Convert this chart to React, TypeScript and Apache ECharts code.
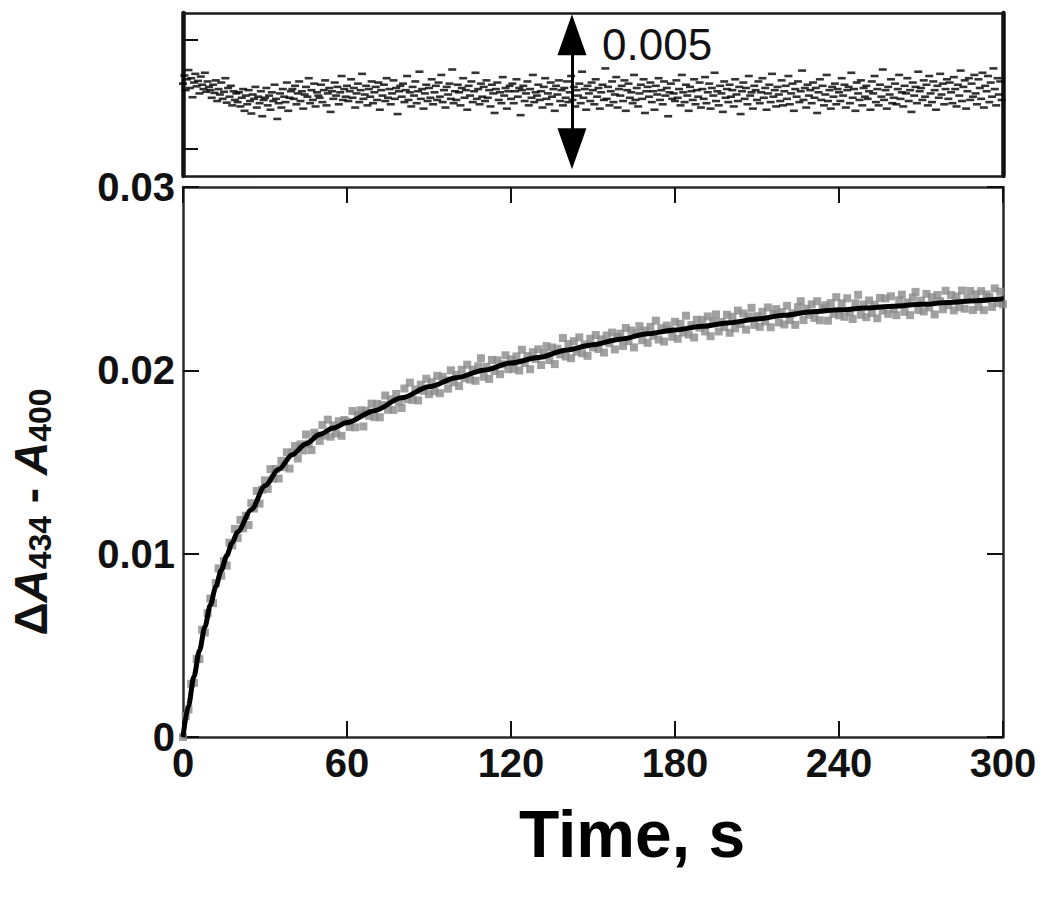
import React, { useEffect, useRef } from "react";
import * as echarts from "echarts";

// Fitted curve (values ×1e-5)
const FIT_T = [0, 2, 4, 6, 8, 10, 12, 14, 16, 18, 20, 25, 30, 35, 40, 45, 50, 55, 60, 70, 80, 90, 100, 110, 120, 130, 140, 150, 160, 170, 180, 190, 200, 210, 220, 230, 240, 250, 260, 270, 280, 290, 300];
const FIT_V = [0, 170, 330, 470, 600, 720, 820, 910, 990, 1060, 1120, 1240, 1370, 1460, 1540, 1600, 1650, 1685, 1715, 1780, 1850, 1910, 1960, 2000, 2040, 2070, 2110, 2140, 2170, 2200, 2220, 2240, 2260, 2280, 2300, 2320, 2330, 2340, 2350, 2360, 2370, 2380, 2390];

// Measured data, one point per second from t = 0 (values ×1e-5)
const DATA_DT = 1;
const DATA_V = [
  0, 115, 150, 290, 295, 425, 425, 585, 570, 675, 755,
  730, 840, 920, 880, 960, 935, 1060, 1045, 1135, 1085,
  1184, 1138, 1207, 1156, 1275, 1246, 1342, 1273, 1349, 1400,
  1353, 1461, 1409, 1462, 1410, 1506, 1472, 1553, 1464, 1550,
  1587, 1519, 1596, 1563, 1650, 1600, 1565, 1660, 1645, 1615,
  1702, 1644, 1731, 1638, 1700, 1656, 1722, 1643, 1729, 1720,
  1691, 1778, 1689, 1756, 1782, 1694, 1780, 1752, 1818, 1745,
  1817, 1744, 1811, 1863, 1785, 1842, 1784, 1871, 1828, 1795,
  1901, 1842, 1933, 1839, 1895, 1836, 1922, 1888, 1954, 1870,
  1935, 1885, 1970, 1875, 1965, 1945, 1900, 2000, 1935, 1975,
  1914, 2003, 1957, 2031, 1950, 2004, 1943, 2022, 2066, 1965,
  2019, 1953, 2057, 1996, 2055, 1979, 2033, 2082, 2006, 2060,
  2008, 2076, 1999, 2112, 2040, 2078, 2006, 2099, 2062, 2115,
  2029, 2093, 2132, 2056, 2125, 2034, 2118, 2087, 2176, 2075,
  2143, 2066, 2159, 2102, 2180, 2093, 2141, 2079, 2172, 2125,
  2193, 2116, 2169, 2097, 2190, 2148, 2206, 2114, 2182, 2200,
  2133, 2231, 2159, 2217, 2125, 2203, 2241, 2164, 2217, 2150,
  2237, 2189, 2271, 2168, 2230, 2157, 2244, 2221, 2183, 2265,
  2172, 2254, 2206, 2298, 2195, 2247, 2179, 2276, 2233, 2275,
  2212, 2294, 2186, 2268, 2305, 2212, 2264, 2236, 2303, 2205,
  2292, 2229, 2326, 2253, 2310, 2222, 2294, 2341, 2248, 2295,
  2237, 2319, 2266, 2343, 2235, 2307, 2334, 2261, 2318, 2250,
  2352, 2274, 2311, 2248, 2345, 2377, 2274, 2336, 2303, 2360,
  2286, 2377, 2273, 2339, 2355, 2271, 2367, 2308, 2399, 2300,
  2366, 2292, 2393, 2319, 2280, 2366, 2412, 2303, 2359, 2290,
  2381, 2312, 2358, 2284, 2395, 2326, 2392, 2308, 2404, 2335,
  2301, 2382, 2413, 2319, 2370, 2301, 2397, 2428, 2329, 2380,
  2321, 2417, 2343, 2399, 2305, 2411, 2377, 2333, 2434, 2355,
  2411, 2327, 2403, 2344, 2435, 2336, 2392, 2433, 2329, 2415,
  2346, 2432, 2328, 2414, 2400, 2346, 2447, 2368, 2429, 2360,
];

// Residuals, one point every 0.5 s from t = 0 (values ×1e-5)
const RES_DT = 0.5;
const RES_V = [
  20, 35, 8, 28, 45, 12, 30, -5, 22, 38, 15, 25, 2, 33, 18, 10, 40, 5, 24, 14,
  8, -6, 18, 3, 26, -12, 10, 0, 22, -8, 5, 30, -15, 12, -4, 16, -20, 6, -10, 2,
  -14, 4, -22, -6, 10, -30, -2, -18, 8, -12, -35, 0, -8, 14, -24, -4, -16, 6, -40, -10,
  -6, 12, -20, -2, -28, 4, -12, 18, -8, -45, -16, 2, -24, 10, -4, -14, 22, -30, -6, 6,
  10, -8, 16, -18, 2, 24, -12, 6, -26, 0, 14, -4, 30, -16, 8, -10, 20, -22, 4, -2,
  -6, 18, -14, 8, 26, -20, 2, 12, -32, 6, -8, 22, -2, 14, -18, 4, 34, -10, 10, -4,
  16, -12, 6, 28, -6, 12, -24, 2, 20, -14, 8, 38, -8, 0, 16, -20, 10, -4, 24, -16,
  4, 14, -10, 22, -28, 8, -2, 18, -12, 30, -6, 10, -18, 2, 26, -8, 12, -36, 6, 16,
  -4, 20, -14, 8, 34, -10, 4, -22, 14, -2, 24, -16, 6, 42, -8, 10, -26, 2, 18, -12,
  12, -6, 28, -18, 4, 16, -10, 22, -4, 36, -14, 8, -24, 14, 0, 20, -8, 46, -16, 6,
  -10, 18, 4, -20, 12, 30, -6, 8, -28, 16, -2, 24, -14, 6, 40, -8, 10, -18, 20, -4,
  14, -12, 26, -6, 8, -22, 18, 2, -34, 10, 22, -10, 4, -16, 32, -2, 12, -26, 6, 16,
  -8, 20, -16, 6, 28, -4, 12, -38, 8, 16, -12, 2, 24, -20, 10, -6, 36, -14, 4, -2,
  18, -10, 6, -24, 14, 30, -8, 2, -18, 22, -4, 10, -30, 16, 0, 26, -12, 8, -20, 12,
  -6, 24, -14, 4, 34, -10, 14, -22, 8, -2, 20, -16, 42, -6, 10, -28, 16, 2, -12, 22,
  8, -18, 28, -4, 12, -26, 4, 18, -10, 48, -8, 14, -20, 6, 24, -14, 0, 32, -24, 10,
  -2, 16, -12, 26, -30, 8, 20, -6, 4, -16, 36, -10, 12, -22, 2, 18, -8, 28, -34, 6,
  14, -4, 22, -14, 6, -28, 16, 0, 30, -10, 8, -18, 24, -2, 12, -40, 4, 20, -8, 2,
  -12, 26, -6, 10, -20, 36, 4, -14, 18, -2, -30, 14, 6, -10, 28, -18, 8, -4, 22, -24,
  10, -8, 32, -16, 4, 20, -26, 12, -2, 40, -12, 6, -20, 16, 2, -32, 24, -6, 10, -14,
  18, -4, 8, -22, 28, 0, -12, 14, -36, 6, 22, -8, 12, -18, 34, -2, 4, -26, 16, 8,
  -10, 24, -16, 4, 30, -6, 12, -28, 2, 18, -14, 38, -4, 8, -22, 14, 0, -12, 26, -20,
  6, 16, -8, 34, -18, 2, 20, -30, 10, -4, 24, -14, 6, 44, -10, 12, -24, 18, -2, 8,
  -16, 22, -6, 12, -34, 4, 28, -10, 16, -20, 0, 36, -12, 8, -26, 14, -4, 20, -18, 10,
  4, -12, 30, -2, 18, -24, 8, 14, -16, 40, -6, 10, -30, 22, 2, -10, 26, -20, 12, -4,
  16, -8, 6, -28, 24, 2, 34, -14, 10, -20, 18, -4, 46, -10, 8, -26, 14, 0, 28, -16,
  -6, 20, -18, 10, 36, -8, 4, -22, 16, 2, 30, -12, 8, -32, 22, -2, 14, -16, 42, 6,
  12, -10, 26, -4, 18, -20, 34, 2, -14, 24, 8, -28, 16, -6, 38, 0, 20, -18, 10, 28,
  -8, 22, 4, -16, 32, 10, -22, 18, -2, 44, -12, 14, 26, -26, 6, 30, -10, 20, -4, 36,
  2, -18, 28, 12, -8, 40, -24, 16, 6, 34, -14, 22, -4, 48, 10, -20, 30, 0, 24, -10,
];

const X_MIN = 0;
const X_MAX = 300;
const X_INTERVAL = 60;
const Y_MIN = 0;
const Y_MAX = 0.03;
const Y_INTERVAL = 0.01;
const RES_MIN = -0.0015;
const RES_MAX = 0.0015;
const RES_TICKS = [-0.001, 0.001];
const SCALE_BAR_T = 142.3;
const SCALE_BAR_TOP = 0.0011;
const SCALE_BAR_BOTTOM = -0.001;
const SCALE_BAR_LABEL = "0.005";

const FONT = "'Liberation Sans', Arial, Helvetica, sans-serif";

export default function App() {
  const ref = useRef<HTMLDivElement>(null);

  useEffect(() => {
    if (!ref.current) return;
    const chart = echarts.init(ref.current, undefined, { renderer: "svg" });

    const fitData = FIT_T.map((t, i) => [t, FIT_V[i] * 1e-5]);
    const pts = DATA_V.map((v, i) => [i * DATA_DT, v * 1e-5]);
    const res = RES_V.map((v, i) => [i * RES_DT, v * 1e-5]);

    const frameTop = { color: "#1a1a1a", width: 2.5 };
    const frameMain = { color: "#2a2a2a", width: 2.5 };
    const tick = { color: "#111", width: 2 };

    const option: any = {
      animation: false,
      backgroundColor: "#ffffff",
      grid: [
        { left: 183, right: 47, top: 13, height: 163 },
        { left: 183, right: 47, top: 187, height: 550 },
      ],
      xAxis: [
        {
          gridIndex: 0, type: "value", min: X_MIN, max: X_MAX, position: "bottom",
          axisLine: { show: true, onZero: false, lineStyle: frameTop }, axisTick: { show: false },
          axisLabel: { show: false }, splitLine: { show: false },
        },
        {
          gridIndex: 0, type: "value", min: X_MIN, max: X_MAX, position: "top",
          axisLine: { show: true, onZero: false, lineStyle: frameTop }, axisTick: { show: false },
          axisLabel: { show: false }, splitLine: { show: false },
        },
        {
          gridIndex: 1, type: "value", min: X_MIN, max: X_MAX, interval: X_INTERVAL, position: "bottom",
          axisLine: { show: true, onZero: false, lineStyle: frameMain },
          axisTick: { show: true, inside: true, length: 16, lineStyle: tick },
          axisLabel: { show: true, fontSize: 40, fontWeight: "bold", fontFamily: FONT, color: "#111", margin: 6 },
          splitLine: { show: false },
        },
        {
          gridIndex: 1, type: "value", min: X_MIN, max: X_MAX, interval: X_INTERVAL, position: "top",
          axisLine: { show: true, onZero: false, lineStyle: frameMain },
          axisTick: { show: true, inside: true, length: 16, lineStyle: tick },
          axisLabel: { show: false }, splitLine: { show: false },
        },
      ],
      yAxis: [
        {
          gridIndex: 0, type: "value", min: RES_MIN, max: RES_MAX, position: "left",
          axisLine: { show: true, onZero: false, lineStyle: { color: "#111", width: 4.5 } },
          axisTick: { show: true, inside: true, length: 15, customValues: RES_TICKS, lineStyle: tick },
          axisLabel: { show: false }, splitLine: { show: false },
        },
        {
          gridIndex: 0, type: "value", min: RES_MIN, max: RES_MAX, position: "right",
          axisLine: { show: true, onZero: false, lineStyle: { color: "#111", width: 4.5 } },
          axisTick: { show: false }, axisLabel: { show: false }, splitLine: { show: false },
        },
        {
          gridIndex: 1, type: "value", min: Y_MIN, max: Y_MAX, interval: Y_INTERVAL, position: "left",
          axisLine: { show: true, onZero: false, lineStyle: frameMain },
          axisTick: { show: true, inside: true, length: 16, lineStyle: tick },
          axisLabel: {
            show: true, fontSize: 40, fontWeight: "bold", fontFamily: FONT, color: "#111", margin: 8,
            formatter: (v: number) => (Math.abs(v) < 1e-12 ? "0" : v.toFixed(2)),
          },
          splitLine: { show: false },
        },
        {
          gridIndex: 1, type: "value", min: Y_MIN, max: Y_MAX, interval: Y_INTERVAL, position: "right",
          axisLine: { show: true, onZero: false, lineStyle: frameMain },
          axisTick: { show: true, inside: true, length: 16, lineStyle: tick },
          axisLabel: { show: false }, splitLine: { show: false },
        },
      ],
      series: [
        {
          name: "residuals", type: "scatter", xAxisIndex: 0, yAxisIndex: 0,
          data: res, symbol: "rect", symbolSize: [8, 2.6],
          itemStyle: { color: "#000" }, silent: true,
          markLine: {
            silent: true,
            symbol: ["none", "none"],
            lineStyle: { color: "#000", width: 3, type: "solid" },
            label: { show: false },
            data: [[{ coord: [SCALE_BAR_T, SCALE_BAR_TOP] }, { coord: [SCALE_BAR_T, SCALE_BAR_BOTTOM] }]],
          },
          markPoint: {
            silent: true,
            label: { show: false },
            itemStyle: { color: "#000" },
            data: [
              { coord: [SCALE_BAR_T, SCALE_BAR_TOP], symbol: "triangle", symbolSize: [29, 41], symbolRotate: 0 },
              { coord: [SCALE_BAR_T, SCALE_BAR_BOTTOM], symbol: "triangle", symbolSize: [29, 41], symbolRotate: 180 },
            ],
          },
        },
        {
          name: "data", type: "scatter", xAxisIndex: 2, yAxisIndex: 2,
          data: pts, symbol: "rect", symbolSize: 8,
          itemStyle: { color: "#8a8a8a" }, silent: true,
        },
        {
          name: "fit", type: "line", xAxisIndex: 2, yAxisIndex: 2,
          data: fitData, showSymbol: false, smooth: 0.3, smoothMonotone: "x",
          lineStyle: { color: "#000", width: 5 }, silent: true, z: 5,
        },
      ],
      graphic: [
        {
          type: "text", x: 602, y: 44,
          style: { text: SCALE_BAR_LABEL, fontSize: 44, fontFamily: FONT, fill: "#111", align: "left", verticalAlign: "middle" },
        },
        {
          type: "text", x: 632, y: 834,
          style: { text: "Time, s", fontSize: 66, fontWeight: "bold", fontFamily: FONT, fill: "#000", align: "center", verticalAlign: "middle" },
        },
        {
          type: "text", x: 31, y: 512, rotation: Math.PI / 2,
          style: {
            text: "{m|Δ}{i|A}{s|434}{m| - }{i|A}{s|400}",
            align: "center", verticalAlign: "middle",
            rich: {
              m: { fontSize: 46, fontWeight: "bold", fontFamily: FONT, fill: "#111", lineHeight: 50, verticalAlign: "middle" },
              i: { fontSize: 46, fontWeight: "bold", fontStyle: "italic", fontFamily: FONT, fill: "#111", lineHeight: 50, verticalAlign: "middle" },
              s: { fontSize: 32, fontWeight: "bold", fontFamily: FONT, fill: "#111", lineHeight: 26, verticalAlign: "bottom" },
            },
          },
        },
      ],
    };

    chart.setOption(option);
    return () => chart.dispose();
  }, []);

  return <div ref={ref} style={{ position: "absolute", left: 0, top: 0, width: 1050, height: 903 }} />;
}
